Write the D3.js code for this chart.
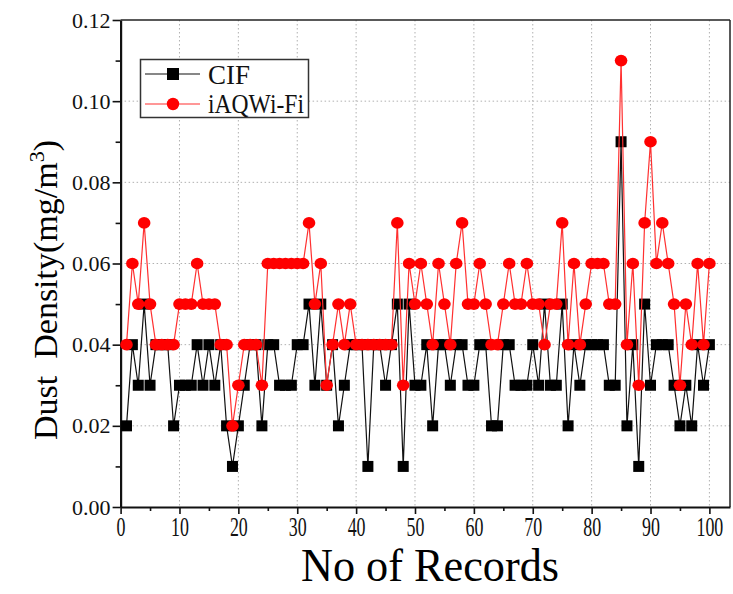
<!DOCTYPE html>
<html>
<head>
<meta charset="utf-8">
<script src="https://cdn.jsdelivr.net/npm/d3@7"></script>
<style>
  body { margin: 0; background: #fff; }
  svg { display: block; }
  text { font-family: "Liberation Serif", "Times New Roman", serif; }
</style>
</head>
<body>
<div id="chart"></div>
<script>
const width = 733;
const height = 594;

// records 1..100
const records = d3.range(1, 101);
const cif = [
  0.02, 0.04, 0.03, 0.05, 0.03, 0.04, 0.04, 0.04, 0.02, 0.03,
  0.03, 0.03, 0.04, 0.03, 0.04, 0.03, 0.04, 0.02, 0.01, 0.02,
  0.03, 0.04, 0.04, 0.02, 0.04, 0.04, 0.03, 0.03, 0.03, 0.04,
  0.04, 0.05, 0.03, 0.05, 0.03, 0.04, 0.02, 0.03, 0.04, 0.04,
  0.04, 0.01, 0.04, 0.04, 0.03, 0.04, 0.05, 0.01, 0.05, 0.03,
  0.03, 0.04, 0.02, 0.04, 0.04, 0.03, 0.04, 0.04, 0.03, 0.03,
  0.04, 0.04, 0.02, 0.02, 0.04, 0.04, 0.03, 0.03, 0.03, 0.04,
  0.03, 0.05, 0.03, 0.03, 0.05, 0.02, 0.04, 0.03, 0.04, 0.04,
  0.04, 0.04, 0.03, 0.03, 0.09, 0.02, 0.04, 0.01, 0.05, 0.03,
  0.04, 0.04, 0.04, 0.03, 0.02, 0.03, 0.02, 0.04, 0.03, 0.04
];
const iaq = [
  0.04, 0.06, 0.05, 0.07, 0.05, 0.04, 0.04, 0.04, 0.04, 0.05,
  0.05, 0.05, 0.06, 0.05, 0.05, 0.05, 0.04, 0.04, 0.02, 0.03,
  0.04, 0.04, 0.04, 0.03, 0.06, 0.06, 0.06, 0.06, 0.06, 0.06,
  0.06, 0.07, 0.05, 0.06, 0.03, 0.04, 0.05, 0.04, 0.05, 0.04,
  0.04, 0.04, 0.04, 0.04, 0.04, 0.04, 0.07, 0.03, 0.06, 0.05,
  0.06, 0.05, 0.04, 0.06, 0.05, 0.04, 0.06, 0.07, 0.05, 0.05,
  0.06, 0.05, 0.04, 0.04, 0.05, 0.06, 0.05, 0.05, 0.06, 0.05,
  0.05, 0.04, 0.05, 0.05, 0.07, 0.04, 0.06, 0.04, 0.05, 0.06,
  0.06, 0.06, 0.05, 0.05, 0.11, 0.04, 0.06, 0.03, 0.07, 0.09,
  0.06, 0.07, 0.06, 0.05, 0.03, 0.05, 0.04, 0.06, 0.04, 0.06
];
const xMajor = d3.range(0, 101, 10);
const xMinor = d3.range(5, 101, 10);
const yMajor = [0, 0.02, 0.04, 0.06, 0.08, 0.10, 0.12];
const yMinor = [0.01, 0.03, 0.05, 0.07, 0.09, 0.11];

const plotLeft = 120.6, plotRight = 730, plotTop = 20, plotBottom = 507;

const svg = d3.select("#chart").append("svg")
  .attr("width", width)
  .attr("height", height);

const x = d3.scaleLinear().domain([0, 103.5]).range([plotLeft, plotRight]);
const y = d3.scaleLinear().domain([0, 0.12]).range([plotBottom, plotTop]);

// grid
const grid = svg.append("g");
grid.selectAll("line.gx")
  .data(xMajor.filter(d => d > 0))
  .enter().append("line")
  .attr("x1", d => x(d)).attr("x2", d => x(d))
  .attr("y1", plotTop).attr("y2", plotBottom)
  .attr("stroke", "#b0b0b0").attr("stroke-width", 1)
  .attr("stroke-dasharray", "1.5,2.5");
grid.selectAll("line.gy")
  .data(yMajor.filter(d => d > 0 && d < 0.12))
  .enter().append("line")
  .attr("x1", plotLeft).attr("x2", plotRight)
  .attr("y1", d => y(d)).attr("y2", d => y(d))
  .attr("stroke", "#b0b0b0").attr("stroke-width", 1)
  .attr("stroke-dasharray", "1.5,2.5");

// frame top/right
svg.append("line").attr("x1", plotLeft).attr("x2", plotRight).attr("y1", plotTop).attr("y2", plotTop)
  .attr("stroke", "#222").attr("stroke-width", 1.5);
svg.append("line").attr("x1", plotRight).attr("x2", plotRight).attr("y1", plotTop).attr("y2", plotBottom)
  .attr("stroke", "#222").attr("stroke-width", 1.5);

// axes
const xAxis = svg.append("g")
  .attr("transform", "translate(0," + plotBottom + ")")
  .call(d3.axisBottom(x).tickValues(xMajor).tickSize(7).tickSizeOuter(0));
svg.append("g")
  .attr("transform", "translate(0," + plotBottom + ")")
  .call(d3.axisBottom(x).tickValues(xMinor).tickSize(4).tickSizeOuter(0).tickFormat(""))
  .select(".domain").remove();
xAxis.selectAll("text")
  .attr("y", 9)
  .attr("font-size", 28)
  .attr("fill", "#111")
  .attr("transform", "scale(0.64,1)");

const yAxis = svg.append("g")
  .attr("transform", "translate(" + plotLeft + ",0)")
  .call(d3.axisLeft(y).tickValues(yMajor).tickSize(8).tickSizeOuter(0).tickFormat(d3.format(".2f")));
svg.append("g")
  .attr("transform", "translate(" + plotLeft + ",0)")
  .call(d3.axisLeft(y).tickValues(yMinor).tickSize(5).tickSizeOuter(0).tickFormat(""))
  .select(".domain").remove();
yAxis.selectAll("text")
  .attr("x", -10)
  .attr("font-size", 22)
  .attr("fill", "#111");

svg.selectAll(".domain").attr("stroke", "#111").attr("stroke-width", 2.2);
svg.selectAll(".tick line").attr("stroke", "#111").attr("stroke-width", 1.6);

// series
const line = d3.line()
  .x((d, i) => x(records[i]))
  .y(d => y(d));

svg.append("path")
  .datum(cif)
  .attr("d", line)
  .attr("fill", "none")
  .attr("stroke", "#111")
  .attr("stroke-width", 1.2);
svg.append("g").selectAll("rect")
  .data(cif)
  .enter().append("rect")
  .attr("x", (d, i) => x(records[i]) - 5.5)
  .attr("y", d => y(d) - 5.5)
  .attr("width", 11).attr("height", 11)
  .attr("fill", "#000");

svg.append("path")
  .datum(iaq)
  .attr("d", line)
  .attr("fill", "none")
  .attr("stroke", "#ff3030")
  .attr("stroke-width", 1.2);
svg.append("g").selectAll("ellipse")
  .data(iaq)
  .enter().append("ellipse")
  .attr("cx", (d, i) => x(records[i]))
  .attr("cy", d => y(d))
  .attr("rx", 6.3).attr("ry", 5.8)
  .attr("fill", "#ff0000");

// legend
const lg = svg.append("g");
lg.append("rect")
  .attr("x", 140.5).attr("y", 59.5).attr("width", 168).attr("height", 58)
  .attr("fill", "#fff").attr("stroke", "#333").attr("stroke-width", 1.5);
lg.append("line").attr("x1", 145).attr("x2", 200).attr("y1", 74).attr("y2", 74)
  .attr("stroke", "#111").attr("stroke-width", 1.2);
lg.append("rect").attr("x", 167).attr("y", 68).attr("width", 12).attr("height", 12).attr("fill", "#000");
lg.append("text").attr("x", 208).attr("y", 84).attr("font-size", 27).attr("fill", "#111")
  .attr("textLength", 42).attr("lengthAdjust", "spacingAndGlyphs").text("CIF");
lg.append("line").attr("x1", 145).attr("x2", 200).attr("y1", 104).attr("y2", 104)
  .attr("stroke", "#ff3030").attr("stroke-width", 1.2);
lg.append("circle").attr("cx", 173).attr("cy", 104).attr("r", 6.2).attr("fill", "#ff0000");
lg.append("text").attr("x", 208).attr("y", 113).attr("font-size", 27).attr("fill", "#111")
  .attr("textLength", 96).attr("lengthAdjust", "spacingAndGlyphs").text("iAQWi-Fi");

// axis titles
svg.append("text")
  .attr("x", 430).attr("y", 581)
  .attr("text-anchor", "middle")
  .attr("font-size", 46)
  .attr("fill", "#000")
  .attr("textLength", 258).attr("lengthAdjust", "spacingAndGlyphs")
  .text("No of Records");

const yt = svg.append("text")
  .attr("transform", "translate(57,290) rotate(-90)")
  .attr("text-anchor", "middle")
  .attr("font-size", 34)
  .attr("fill", "#000")
  .style("white-space", "pre");
yt.append("tspan").text("Dust  Density(mg/m");
yt.append("tspan").attr("font-size", 22).attr("dy", -13).text("3");
yt.append("tspan").attr("dy", 13).text(")");
</script>
</body>
</html>
